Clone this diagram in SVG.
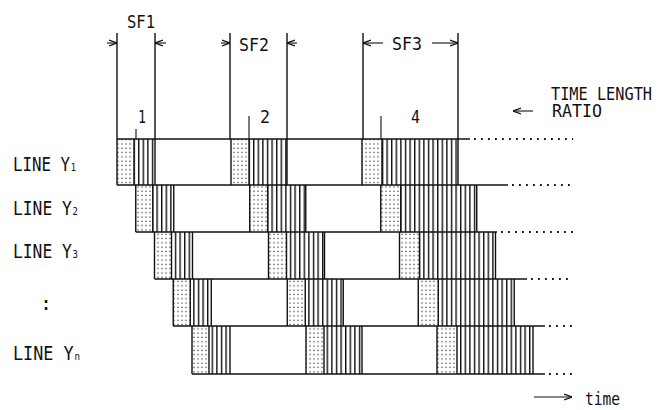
<svg xmlns="http://www.w3.org/2000/svg" width="661" height="410" viewBox="0 0 661 410">
<style>
.bg{fill:#fff}
.ln{stroke:#111;stroke-width:1.4;fill:none}
.thin{stroke:#111;stroke-width:1.1;fill:none}
.dash{stroke:#111;stroke-width:1.8;stroke-dasharray:1.8 5.2;fill:none}
.dt{fill:url(#dots)}
.ht{fill:url(#hatch)}
.t{font-family:"DejaVu Sans Mono","Liberation Mono",monospace;font-size:18px;fill:#111}
.big{font-size:20px}
.sub{font-size:11px}
</style>
<defs>
<pattern id="hatch" patternUnits="userSpaceOnUse" width="4.6" height="10"><rect x="0" y="0" width="1.4" height="10" fill="#111"/></pattern>
<pattern id="dots" patternUnits="userSpaceOnUse" width="4" height="4.3"><circle cx="2" cy="2" r="0.75" fill="#444"/></pattern>
<marker id="arr" viewBox="0 0 8 8" refX="8" refY="4" markerWidth="8" markerHeight="8" markerUnits="userSpaceOnUse" orient="auto"><path d="M0,1 L8,4 L0,7" fill="none" stroke="#111" stroke-width="1.2"/></marker>
</defs>
<rect class="bg" width="661" height="410"/>

<g id="sf-labels">
<line class="ln" x1="117" y1="33" x2="117" y2="139"/>
<line class="ln" x1="155" y1="33" x2="155" y2="139"/>
<line class="ln" x1="230" y1="33" x2="230" y2="139"/>
<line class="ln" x1="287" y1="33" x2="287" y2="139"/>
<line class="ln" x1="363" y1="33" x2="363" y2="139"/>
<line class="ln" x1="458" y1="33" x2="458" y2="139"/>
<text class="t" x="127" y="28" textLength="28" lengthAdjust="spacingAndGlyphs">SF1</text>
<text class="t" x="239" y="51" textLength="30" lengthAdjust="spacingAndGlyphs">SF2</text>
<text class="t" x="392" y="50" textLength="30" lengthAdjust="spacingAndGlyphs">SF3</text>
<line class="thin" x1="136" y1="129" x2="136" y2="139"/>
<line class="thin" x1="249" y1="116" x2="249" y2="139"/>
<line class="thin" x1="381" y1="116" x2="381" y2="139"/>
<text class="t" x="138" y="123" textLength="8" lengthAdjust="spacingAndGlyphs">1</text>
<text class="t" x="260" y="123" textLength="10" lengthAdjust="spacingAndGlyphs">2</text>
<text class="t" x="411" y="123" textLength="9" lengthAdjust="spacingAndGlyphs">4</text>
<text class="t" x="551" y="100" textLength="101" lengthAdjust="spacingAndGlyphs">TIME LENGTH</text>
<text class="t" x="552" y="117" textLength="50" lengthAdjust="spacingAndGlyphs">RATIO</text>
<text class="t" x="585" y="405" textLength="35" lengthAdjust="spacingAndGlyphs">time</text>
</g>

<g id="line-labels">
<text class="t big" x="13" y="171" textLength="63" lengthAdjust="spacingAndGlyphs">LINE Y<tspan class="sub" dx="1">1</tspan></text>
<text class="t big" x="13" y="215" textLength="65" lengthAdjust="spacingAndGlyphs">LINE Y<tspan class="sub" dx="1">2</tspan></text>
<text class="t big" x="13" y="258" textLength="65" lengthAdjust="spacingAndGlyphs">LINE Y<tspan class="sub" dx="1">3</tspan></text>
<text class="t big" x="40" y="310">:</text>
<text class="t big" x="13" y="360" textLength="67" lengthAdjust="spacingAndGlyphs">LINE Y<tspan class="sub" dx="1">n</tspan></text>
</g>

<g id="row1">
<rect class="dt" x="117" y="139" width="17" height="46"/>
<rect class="ht" x="134" y="139" width="21" height="46"/>
<rect class="dt" x="231" y="139" width="18" height="46"/>
<rect class="ht" x="249" y="139" width="38" height="46"/>
<rect class="dt" x="362" y="139" width="20" height="46"/>
<rect class="ht" x="382" y="139" width="76" height="46"/>
<path class="ln" d="M117,139V185M134,139V185M155,139V185M231,139V185M249,139V185M287,139V185M362,139V185M382,139V185M458,139V185"/>
</g>

<g id="row2">
<rect class="dt" x="135.75" y="185" width="17" height="47"/>
<rect class="ht" x="152.75" y="185" width="21" height="47"/>
<rect class="dt" x="249.75" y="185" width="18" height="47"/>
<rect class="ht" x="267.75" y="185" width="38" height="47"/>
<rect class="dt" x="380.75" y="185" width="20" height="47"/>
<rect class="ht" x="400.75" y="185" width="76" height="47"/>
<path class="ln" d="M135.75,185V232M152.75,185V232M173.75,185V232M249.75,185V232M267.75,185V232M305.75,185V232M380.75,185V232M400.75,185V232M476.75,185V232"/>
</g>

<g id="row3">
<rect class="dt" x="154.5" y="232" width="17" height="47"/>
<rect class="ht" x="171.5" y="232" width="21" height="47"/>
<rect class="dt" x="268.5" y="232" width="18" height="47"/>
<rect class="ht" x="286.5" y="232" width="38" height="47"/>
<rect class="dt" x="399.5" y="232" width="20" height="47"/>
<rect class="ht" x="419.5" y="232" width="76" height="47"/>
<path class="ln" d="M154.5,232V279M171.5,232V279M192.5,232V279M268.5,232V279M286.5,232V279M324.5,232V279M399.5,232V279M419.5,232V279M495.5,232V279"/>
</g>

<g id="row4">
<rect class="dt" x="173.25" y="279" width="17" height="47"/>
<rect class="ht" x="190.25" y="279" width="21" height="47"/>
<rect class="dt" x="287.25" y="279" width="18" height="47"/>
<rect class="ht" x="305.25" y="279" width="38" height="47"/>
<rect class="dt" x="418.25" y="279" width="20" height="47"/>
<rect class="ht" x="438.25" y="279" width="76" height="47"/>
<path class="ln" d="M173.25,279V326M190.25,279V326M211.25,279V326M287.25,279V326M305.25,279V326M343.25,279V326M418.25,279V326M438.25,279V326M514.25,279V326"/>
</g>

<g id="row5">
<rect class="dt" x="192" y="326" width="17" height="48"/>
<rect class="ht" x="209" y="326" width="21" height="48"/>
<rect class="dt" x="306" y="326" width="18" height="48"/>
<rect class="ht" x="324" y="326" width="38" height="48"/>
<rect class="dt" x="437" y="326" width="20" height="48"/>
<rect class="ht" x="457" y="326" width="76" height="48"/>
<path class="ln" d="M192,326V374M209,326V374M230,326V374M306,326V374M324,326V374M362,326V374M437,326V374M457,326V374M533,326V374"/>
</g>

<g id="timelines">
<line class="ln" x1="117" y1="139" x2="470" y2="139"/>
<line class="dash" x1="474" y1="139" x2="573" y2="139"/>
<line class="ln" x1="117" y1="185" x2="508" y2="185"/>
<line class="dash" x1="512" y1="185" x2="573" y2="185"/>
<line class="ln" x1="135.75" y1="232" x2="497" y2="232"/>
<line class="dash" x1="501" y1="232" x2="573" y2="232"/>
<line class="ln" x1="154.5" y1="279" x2="527" y2="279"/>
<line class="dash" x1="531" y1="279" x2="573" y2="279"/>
<line class="ln" x1="173.25" y1="326" x2="545" y2="326"/>
<line class="dash" x1="549" y1="326" x2="573" y2="326"/>
<line class="ln" x1="192" y1="374" x2="545" y2="374"/>
<line class="dash" x1="549" y1="374" x2="573" y2="374"/>
</g>

<g id="connectors">
<line class="thin" x1="107" y1="43" x2="117" y2="43" marker-end="url(#arr)"/>
<line class="thin" x1="166" y1="43" x2="155" y2="43" marker-end="url(#arr)"/>
<line class="thin" x1="221" y1="43" x2="230" y2="43" marker-end="url(#arr)"/>
<line class="thin" x1="297" y1="43" x2="287" y2="43" marker-end="url(#arr)"/>
<line class="thin" x1="383" y1="43" x2="363" y2="43" marker-end="url(#arr)"/>
<line class="thin" x1="432" y1="43" x2="458" y2="43" marker-end="url(#arr)"/>
<line class="thin" x1="533" y1="111" x2="513" y2="111" marker-end="url(#arr)"/>
<line class="thin" x1="534" y1="397" x2="572" y2="397" marker-end="url(#arr)"/>
</g>
</svg>
